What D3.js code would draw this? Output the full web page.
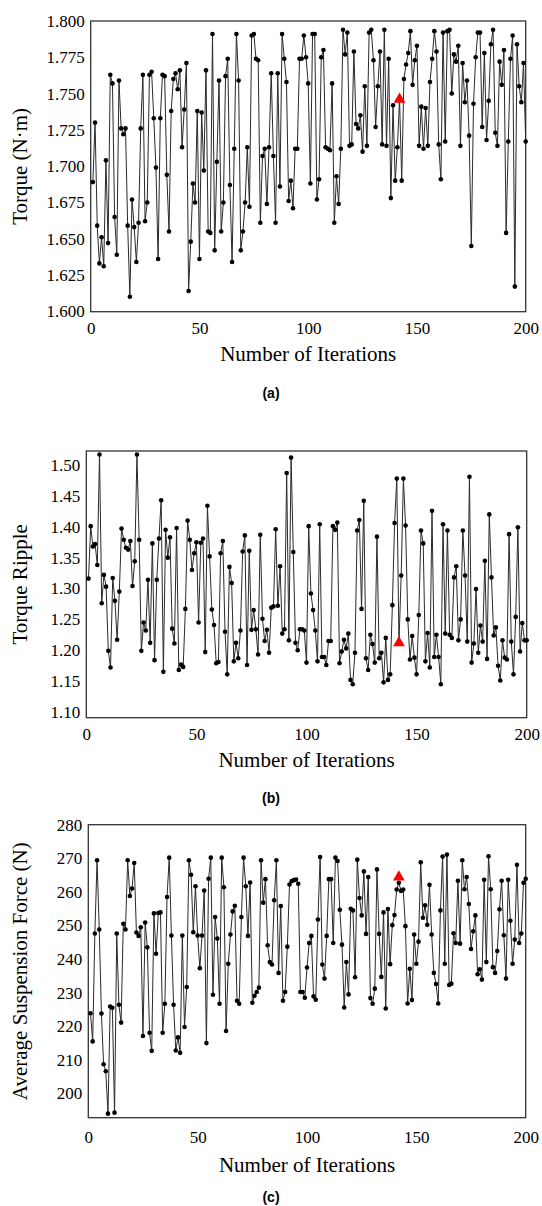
<!DOCTYPE html>
<html><head><meta charset="utf-8">
<script src="https://cdn.jsdelivr.net/npm/d3@7"></script>
<style>body{margin:0;background:#fff}svg{display:block}</style>
</head><body><svg id="c" width="542" height="1206"></svg>
<script>
const iterations = d3.range(1, 201);
const xTicks = [0, 50, 100, 150, 200];
const torqueTicks = [1.600, 1.625, 1.650, 1.675, 1.700, 1.725, 1.750, 1.775, 1.800];
const rippleTicks = [1.10, 1.15, 1.20, 1.25, 1.30, 1.35, 1.40, 1.45, 1.50];
const forceTicks = [200, 210, 220, 230, 240, 250, 260, 270, 280];
const torque = [
1.689,1.730,1.659,1.633,1.651,1.631,1.704,1.647,1.763,1.757,
1.665,1.639,1.759,1.726,1.722,1.726,1.659,1.610,1.677,1.658,
1.634,1.661,1.726,1.763,1.662,1.675,1.763,1.765,1.733,1.699,
1.636,1.733,1.763,1.762,1.694,1.655,1.738,1.760,1.764,1.753,
1.766,1.713,1.739,1.771,1.614,1.648,1.688,1.675,1.738,1.636,
1.737,1.697,1.766,1.655,1.654,1.791,1.642,1.703,1.759,1.655,
1.675,1.762,1.774,1.687,1.634,1.712,1.791,1.759,1.642,1.655,
1.675,1.713,1.672,1.790,1.791,1.774,1.773,1.661,1.707,1.712,
1.674,1.713,1.764,1.707,1.661,1.764,1.686,1.791,1.774,1.758,
1.676,1.690,1.671,1.712,1.712,1.774,1.774,1.790,1.775,1.757,
1.688,1.791,1.791,1.677,1.691,1.775,1.780,1.713,1.712,1.711,
1.757,1.661,1.693,1.674,1.712,1.794,1.777,1.792,1.714,1.715,
1.779,1.729,1.726,1.735,1.710,1.755,1.714,1.792,1.794,1.773,
1.727,1.755,1.779,1.715,1.794,1.714,1.774,1.678,1.742,1.690,
1.713,1.746,1.690,1.760,1.770,1.778,1.793,1.756,1.773,1.783,
1.714,1.741,1.712,1.740,1.714,1.758,1.774,1.793,1.779,1.715,
1.691,1.792,1.717,1.793,1.794,1.750,1.777,1.772,1.783,1.714,
1.771,1.744,1.759,1.721,1.645,1.743,1.775,1.792,1.792,1.727,
1.778,1.718,1.745,1.784,1.794,1.723,1.714,1.772,1.756,1.780,
1.654,1.717,1.774,1.790,1.617,1.784,1.755,1.744,1.771,1.717];
const ripple = [
1.316,1.401,1.368,1.372,1.338,1.517,1.276,1.322,1.303,1.199,
1.172,1.317,1.280,1.217,1.295,1.397,1.379,1.366,1.363,1.377,
1.304,1.344,1.517,1.379,1.199,1.245,1.232,1.314,1.212,1.373,
1.184,1.314,1.381,1.443,1.165,1.395,1.350,1.383,1.235,1.211,
1.398,1.168,1.177,1.173,1.267,1.410,1.379,1.330,1.357,1.375,
1.245,1.374,1.381,1.197,1.434,1.352,1.266,1.241,1.179,1.181,
1.357,1.377,1.230,1.161,1.335,1.309,1.182,1.212,1.187,1.232,
1.360,1.386,1.176,1.361,1.233,1.265,1.234,1.193,1.387,1.251,
1.215,1.233,1.196,1.269,1.271,1.396,1.272,1.336,1.227,1.234,
1.487,1.216,1.512,1.359,1.212,1.200,1.234,1.234,1.232,1.180,
1.401,1.292,1.265,1.232,1.182,1.404,1.189,1.189,1.176,1.215,
1.215,1.401,1.395,1.407,1.179,1.198,1.217,1.203,1.227,1.152,
1.145,1.196,1.394,1.411,1.267,1.442,1.187,1.168,1.225,1.210,
1.180,1.384,1.187,1.196,1.148,1.220,1.152,1.161,1.273,1.406,
1.478,1.212,1.321,1.478,1.402,1.250,1.185,1.223,1.188,1.161,
1.257,1.394,1.373,1.182,1.228,1.172,1.426,1.189,1.225,1.189,
1.145,1.404,1.227,1.394,1.225,1.220,1.318,1.336,1.216,1.250,
1.394,1.321,1.214,1.481,1.180,1.211,1.299,1.196,1.240,1.214,
1.345,1.186,1.420,1.318,1.224,1.237,1.175,1.151,1.216,1.188,
1.185,1.388,1.214,1.161,1.254,1.399,1.198,1.244,1.216,1.216];
const force = [
223.9,215.5,247.6,269.4,248.8,223.8,208.7,206.6,194.0,225.9,
225.5,194.3,247.6,226.4,221.1,250.5,248.8,269.4,258.8,261.0,
268.6,247.9,246.9,249.5,217.1,250.9,243.5,218.1,212.7,253.6,
241.6,253.7,253.9,218.1,226.7,258.5,270.2,247.0,226.4,212.8,
216.7,212.1,247.0,219.8,231.7,269.4,265.1,248.0,261.7,247.0,
237.3,247.0,260.4,215.0,263.9,270.2,229.4,252.5,246.1,226.7,
270.2,261.4,218.6,238.6,247.3,254.2,255.9,227.6,226.7,252.5,
270.2,261.7,246.9,262.8,227.0,229.1,230.2,231.5,269.4,256.8,
263.8,244.1,239.1,238.4,257.5,269.4,235.9,255.8,227.6,230.2,
243.7,262.2,263.2,263.5,263.7,262.4,230.2,230.2,228.5,237.5,
244.8,246.9,228.9,227.9,251.8,270.4,238.4,234.2,246.9,263.8,
263.8,244.8,270.2,269.2,254.7,244.3,225.6,239.1,229.5,255.0,
254.5,234.6,269.6,258.2,253.0,266.1,247.5,264.4,228.4,226.7,
231.2,266.7,247.5,234.7,253.9,225.3,254.9,238.5,250.1,253.1,
260.7,262.7,260.3,260.7,249.8,226.8,237.1,227.8,247.3,238.6,
245.2,268.8,252.3,256.0,250.2,262.1,247.3,235.9,232.6,226.8,
254.5,270.5,238.6,271.1,232.3,232.7,247.7,244.8,263.3,244.6,
269.4,260.8,264.4,256.4,243.0,248.3,253.0,235.5,237.0,233.9,
263.6,239.1,270.6,260.8,237.6,235.9,242.4,254.8,263.3,247.1,
234.2,263.6,251.4,238.6,245.8,268.1,244.8,247.6,262.7,263.9];
const bestIter = 142;
const bestTorque = 1.746, bestRipple = 1.212, bestForce = 264.4;

const svg = d3.select("#c");
const serif = "'Liberation Serif','Times New Roman',serif";

const panels = [
  {vals: torque, best: bestTorque, ticks: torqueTicks, fmt: d3.format(".3f"), title: "Torque (N\u00b7m)", tag: "(a)",
   box: {l: 90.7, r: 525.7, t: 21, b: 311.7}, dom: [1.6, 1.8], rng: [311.3, 21],
   xlab: 328, xtitle: 354, tagY: 393, titleX: 20},
  {vals: ripple, best: bestRipple, ticks: rippleTicks, fmt: d3.format(".2f"), title: "Torque Ripple", tag: "(b)",
   box: {l: 86.3, r: 526.7, t: 451, b: 717.7}, dom: [1.10, 1.50], rng: [712, 465],
   xlab: 734, xtitle: 760, tagY: 798, titleX: 20},
  {vals: force, best: bestForce, ticks: forceTicks, fmt: d3.format("d"), title: "Average Suspension Force (N)", tag: "(c)",
   box: {l: 88.3, r: 525.7, t: 824.7, b: 1117.7}, dom: [200, 280], rng: [1093.5, 824.7],
   xlab: 1137, xtitle: 1165, tagY: 1197, titleX: 20}
];

panels.forEach(p => {
  const x = d3.scaleLinear().domain([0, 200]).range([p.box.l, p.box.r]);
  const y = d3.scaleLinear().domain(p.dom).range(p.rng);
  const g = svg.append("g");
  g.append("rect").attr("x", p.box.l).attr("y", p.box.t)
    .attr("width", p.box.r - p.box.l).attr("height", p.box.b - p.box.t)
    .attr("fill", "none").attr("stroke", "#333").attr("stroke-width", 1.3);
  const xa = g.append("g").attr("transform", `translate(0,${p.box.b})`)
    .call(d3.axisBottom(x).tickValues(xTicks).tickSize(0).tickFormat(d3.format("d")));
  const ya = g.append("g").attr("transform", `translate(${p.box.l},0)`)
    .call(d3.axisLeft(y).tickValues(p.ticks).tickSize(0).tickPadding(6).tickFormat(p.fmt));
  [xa, ya].forEach(a => {
    a.select(".domain").remove();
    a.selectAll("text").attr("font-family", serif).attr("font-size", 17).attr("fill", "#000");
  });
  xa.selectAll("text").attr("dy", "0.35em").attr("y", p.xlab - p.box.b);
  const line = d3.line().x((d, i) => x(iterations[i])).y(d => y(d));
  g.append("path").datum(p.vals).attr("d", line).attr("fill", "none")
    .attr("stroke", "#2a2a2a").attr("stroke-width", 1);
  g.selectAll("circle").data(p.vals).join("circle")
    .attr("cx", (d, i) => x(iterations[i])).attr("cy", d => y(d)).attr("r", 2.3).attr("fill", "#000");
  g.append("path").attr("d", d3.symbol(d3.symbolTriangle, 60)())
    .attr("transform", `translate(${x(bestIter)},${y(p.best)})`).attr("fill", "#ff0000");
  g.append("text").attr("x", (p.box.l + p.box.r) / 2).attr("y", p.xtitle).attr("dy", "0.35em")
    .attr("text-anchor", "middle").attr("font-family", serif).attr("font-size", 21).text("Number of Iterations");
  g.append("text").attr("transform", `translate(${p.titleX},${(p.box.t + p.box.b) / 2}) rotate(-90)`)
    .attr("dy", "0.35em").attr("text-anchor", "middle").attr("font-family", serif).attr("font-size", 21).text(p.title);
  g.append("text").attr("x", 271).attr("y", p.tagY).attr("dy", "0.35em").attr("text-anchor", "middle")
    .attr("font-family", "'Liberation Sans',Arial,sans-serif").attr("font-weight", "bold").attr("font-size", 14).text(p.tag);
});
</script></body></html>
